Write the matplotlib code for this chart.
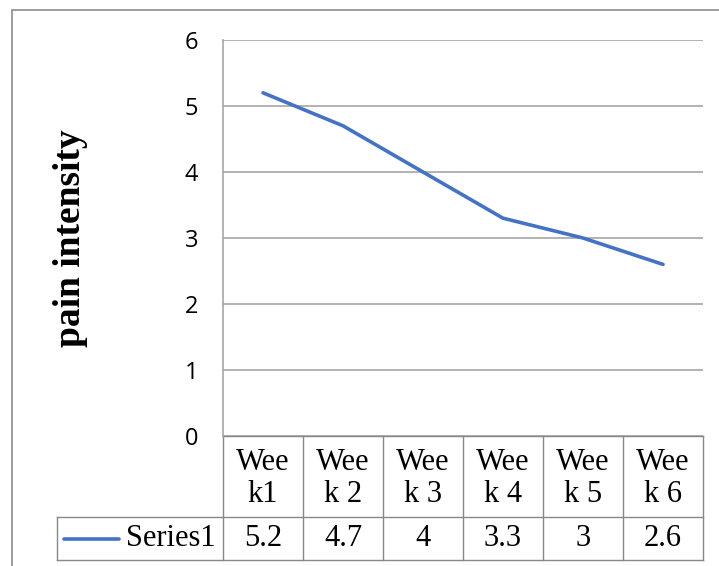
import matplotlib
matplotlib.use("Agg")
import matplotlib.pyplot as plt
from matplotlib.patches import Rectangle

weeks = ["Wee\nk1", "Wee\nk 2", "Wee\nk 3", "Wee\nk 4", "Wee\nk 5", "Wee\nk 6"]
values = [5.2, 4.7, 4, 3.3, 3, 2.6]
value_labels = ["5.2", "4.7", "4", "3.3", "3", "2.6"]
series_name = "Series1"
y_label = "pain intensity"

W, H = 719, 566
fig = plt.figure(figsize=(W / 100, H / 100), dpi=100)

# outer chart border (runs off the right and bottom edge)
fig.patches.append(Rectangle((12 / W, -0.1), 1.2, 1 - 10 / H + 0.1,
                             transform=fig.transFigure, fill=False,
                             edgecolor="#8c8c8c", linewidth=1.2))

left, right, top, bottom = 223, 703, 40, 436
ax = fig.add_axes([left / W, 1 - bottom / H, (right - left) / W, (bottom - top) / H])

blue = "#4472c4"
grid = "#a6a6a6"
tline = "#888888"

x = list(range(len(values)))
ax.plot(x, values, color=blue, linewidth=2.6, solid_capstyle="round")
ax.set_xlim(-0.5, len(values) - 0.5)
ax.set_ylim(0, 6)
ax.set_yticks(range(0, 7))
ax.set_yticklabels([str(v) for v in range(0, 7)], fontsize=17, family="Open Sans")
ax.yaxis.grid(True, color=grid, linewidth=1.2)
ax.set_axisbelow(True)
ax.tick_params(axis="y", length=0, pad=18)
ax.tick_params(axis="x", length=0, labelbottom=False)
for s in ["top", "right", "bottom"]:
    ax.spines[s].set_visible(False)
ax.spines["left"].set_color(grid)
ax.spines["left"].set_linewidth(1.2)

ax.text(-0.318, 0.5, y_label, transform=ax.transAxes, rotation=90,
        ha="center", va="center", fontsize=27, fontweight="bold",
        family="Liberation Serif")

# data table below the plot
tr = ax.get_xaxis_transform()
ph = bottom - top
r1 = -(517 - bottom) / ph
r2 = -(560 - bottom) / ph
lab_left = -0.5 - (left - 57) / 80
n = len(values)
kw = dict(transform=tr, color=tline, linewidth=1.0, clip_on=False)
ax.plot([-0.5, n - 0.5], [0, 0], **kw)
ax.plot([-0.5, n - 0.5], [r1, r1], **kw)
ax.plot([lab_left, -0.5], [r1, r1], **kw)
ax.plot([lab_left, n - 0.5], [r2, r2], **kw)
ax.plot([lab_left, lab_left], [r1, r2], **kw)
for i in range(n + 1):
    ax.plot([i - 0.5, i - 0.5], [0, r2], **kw)

for i in range(n):
    ax.text(i, r1 / 2 - 2 / ph, weeks[i], transform=tr, ha="center", va="center",
            fontsize=22, family="Liberation Serif", linespacing=1.15)
    ax.text(i, (r1 + r2) / 2, value_labels[i], transform=tr, ha="center",
            va="center", fontsize=22, family="Liberation Serif")

ax.plot([lab_left + 0.09, lab_left + 0.77], [(r1 + r2) / 2] * 2, transform=tr,
        color=blue, linewidth=2.6, clip_on=False, solid_capstyle="round")
ax.text(-0.59, (r1 + r2) / 2, series_name, transform=tr, ha="right",
        va="center", fontsize=22, family="Liberation Serif")

fig.savefig("out.png", dpi=100)
